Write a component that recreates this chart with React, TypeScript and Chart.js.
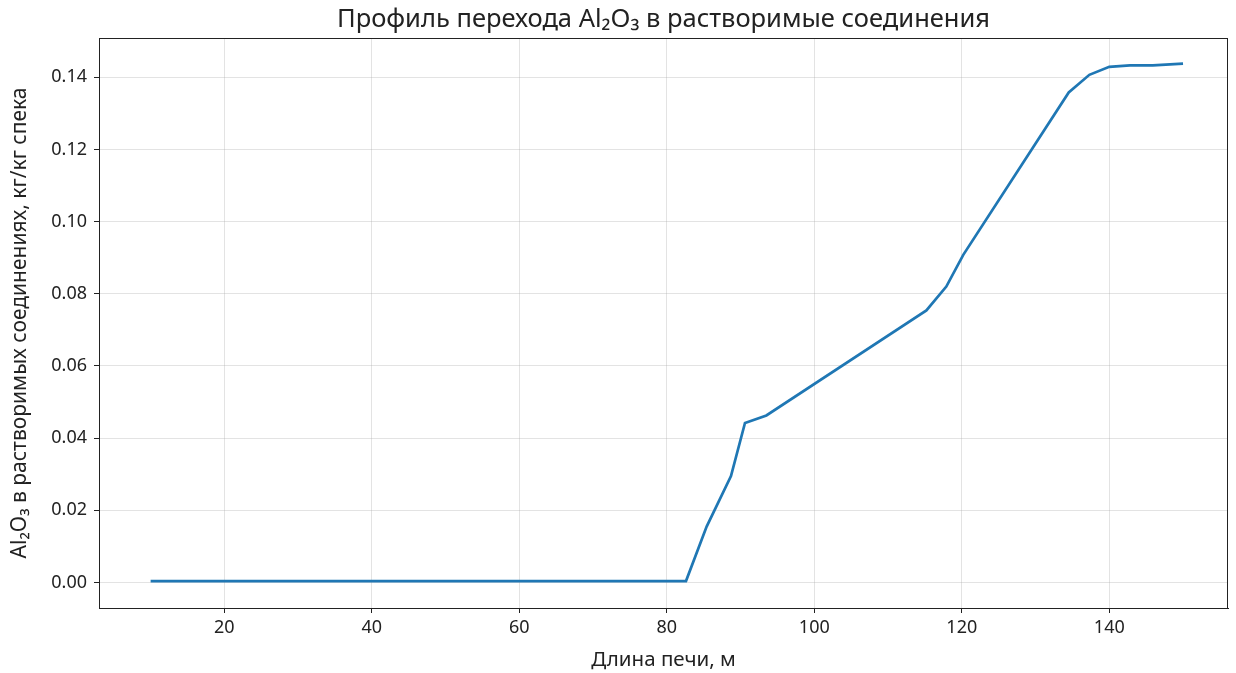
import React, { useEffect, useRef } from 'react';
import { Chart, registerables } from 'chart.js';

Chart.register(...registerables);

// Kiln length (m) at the polyline vertices
const kilnLength = [10, 82.6, 85.4, 88.7, 90.6, 93.5, 115.2, 117.9, 120.2, 134.5, 137.3, 140.0, 142.8, 145.9, 150.0];
// Al2O3 in soluble compounds, kg/kg sinter
const al2o3Soluble = [0.0004, 0.0004, 0.0155, 0.0295, 0.0442, 0.0463, 0.0754, 0.082, 0.0908, 0.1358, 0.1407, 0.1429, 0.1433, 0.1433, 0.1438];

const xTicks = [20, 40, 60, 80, 100, 120, 140];
const yTicks = [0, 0.02, 0.04, 0.06, 0.08, 0.1, 0.12, 0.14];

const titleText = 'Профиль перехода Al₂O₃ в растворимые соединения';
const xTitle = 'Длина печи, м';
const yTitle = 'Al₂O₃ в растворимых соединениях, кг/кг спека';

const FONT = '"Noto Sans", "DejaVu Sans", sans-serif';
const TEXT = '#222222';
const GRID = 'rgba(176,176,176,0.35)';

export default function App() {
  const ref = useRef<HTMLCanvasElement>(null);

  useEffect(() => {
    if (!ref.current) return;
    const framePlugin = {
      id: 'frameAndTitle',
      afterDraw(chart: any) {
        const { ctx, chartArea } = chart;
        const { left, top, right, bottom } = chartArea;
        ctx.save();
        ctx.strokeStyle = TEXT;
        ctx.lineWidth = 1;
        ctx.strokeRect(Math.round(left) + 0.5, Math.round(top) + 0.5, Math.round(right - left) - 1, Math.round(bottom - top));
        ctx.fillStyle = TEXT;
        ctx.font = `25.5px ${FONT}`;
        ctx.textAlign = 'center';
        ctx.textBaseline = 'middle';
        ctx.fillText(titleText, (left + right) / 2, 20);
        ctx.restore();
      },
    };

    const chart = new Chart(ref.current, {
      type: 'line',
      data: {
        datasets: [
          {
            data: kilnLength.map((x, i) => ({ x, y: al2o3Soluble[i] })),
            borderColor: '#1f77b4',
            borderWidth: 2.7,
            pointRadius: 0,
            tension: 0,
            fill: false,
          },
        ],
      },
      options: {
        animation: false,
        responsive: false,
        maintainAspectRatio: false,
        layout: { padding: { left: 0, right: 8, top: 38, bottom: 0 } },
        plugins: {
          legend: { display: false },
          tooltip: { enabled: false },
          title: { display: false },
        },
        scales: {
          x: {
            type: 'linear',
            min: 3.0,
            max: 156.1,
            afterBuildTicks: (axis: any) => {
              axis.ticks = xTicks.map((v) => ({ value: v }));
            },
            afterFit: (scale: any) => {
              scale.height = 65;
            },
            ticks: {
              font: { family: FONT, size: 18 },
              color: TEXT,
              padding: 4,
              maxRotation: 0,
              autoSkip: false,
              callback: (v: any) => String(v),
            },
            grid: { color: GRID, tickColor: TEXT, tickLength: 5, lineWidth: 1 },
            border: { color: TEXT, width: 1 },
            title: {
              display: true,
              text: xTitle,
              font: { family: FONT, size: 20.5 },
              color: TEXT,
              padding: { top: 0, bottom: 0.5 },
            },
          },
          y: {
            type: 'linear',
            min: -0.00707,
            max: 0.1509,
            afterBuildTicks: (axis: any) => {
              axis.ticks = yTicks.map((v) => ({ value: v }));
            },
            afterFit: (scale: any) => {
              scale.width = 99;
            },
            ticks: {
              font: { family: FONT, size: 18 },
              color: TEXT,
              padding: 7,
              autoSkip: false,
              callback: (v: any) => Number(v).toFixed(2),
            },
            grid: { color: GRID, tickColor: TEXT, tickLength: 5, lineWidth: 1 },
            border: { color: TEXT, width: 1 },
            title: {
              display: true,
              text: yTitle,
              font: { family: FONT, size: 21 },
              color: TEXT,
              padding: { top: 7.5, bottom: 0 },
            },
          },
        },
      },
      plugins: [framePlugin],
    });
    return () => chart.destroy();
  }, []);

  return (
    <div style={{ position: 'absolute', left: 0, top: 0, width: 1236, height: 673, background: '#fff' }}>
      <canvas ref={ref} width={1236} height={673} style={{ display: 'block' }} />
    </div>
  );
}
